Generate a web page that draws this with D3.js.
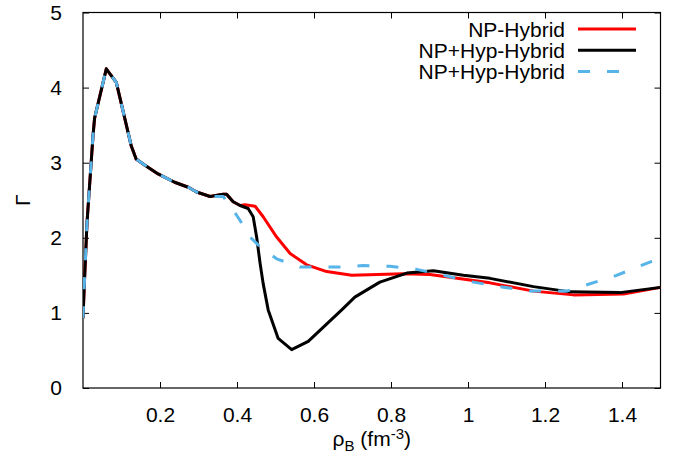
<!DOCTYPE html>
<html>
<head>
<meta charset="utf-8">
<script src="https://cdn.jsdelivr.net/npm/d3@7/dist/d3.min.js"></script>
<style>
  body { margin: 0; background: #fff; }
  svg { font-family: "Liberation Sans", Arial, Helvetica, sans-serif; }
</style>
</head>
<body>
<div id="chart"></div>
<script>
// axis ticks
const xTicks = [0.2, 0.4, 0.6, 0.8, 1, 1.2, 1.4]
const yTicks = [0, 1, 2, 3, 4, 5]

// legend labels (the figure really does repeat the second one)
const seriesNames = ["NP-Hybrid", "NP+Hyp-Hybrid", "NP+Hyp-Hybrid"]

// [rho_B, Gamma] points; all three curves share the low density part
const lowDensity = [
  [0, 0.93], [0.003, 1.33], [0.0104, 2.2], [0.026, 3.36], [0.030, 3.59],
  [0.0605, 4.25], [0.0865, 4.07], [0.125, 3.23], [0.138, 3.05], [0.160, 2.97],
  [0.195, 2.85], [0.238, 2.74], [0.275, 2.67], [0.295, 2.61], [0.330, 2.55]
]

const npHybrid = lowDensity.concat([
  [0.364, 2.58], [0.373, 2.58], [0.390, 2.48], [0.408, 2.43], [0.421, 2.44],
  [0.447, 2.42], [0.468, 2.28], [0.503, 2.01], [0.538, 1.79], [0.581, 1.64],
  [0.633, 1.55], [0.698, 1.50], [0.832, 1.52], [0.901, 1.51], [1.057, 1.40],
  [1.170, 1.29], [1.274, 1.24], [1.404, 1.25], [1.5, 1.34]
])

const npHypHybrid = lowDensity.concat([
  [0.364, 2.58], [0.373, 2.58], [0.390, 2.48], [0.408, 2.43], [0.429, 2.39],
  [0.442, 2.28], [0.451, 2.01], [0.460, 1.66], [0.468, 1.39], [0.481, 1.04],
  [0.507, 0.66], [0.542, 0.51], [0.585, 0.62], [0.672, 1.04], [0.706, 1.21],
  [0.771, 1.41], [0.841, 1.53], [0.910, 1.56], [0.988, 1.50], [1.057, 1.46],
  [1.170, 1.35], [1.265, 1.28], [1.395, 1.27], [1.5, 1.34]
])

const npHypHybridDashed = lowDensity.concat([
  [0.364, 2.55], [0.390, 2.37], [0.408, 2.23], [0.434, 2.01], [0.460, 1.88],
  [0.503, 1.72], [0.564, 1.61], [0.667, 1.61], [0.727, 1.63], [0.797, 1.62],
  [0.867, 1.58], [0.936, 1.50], [1.014, 1.41], [1.083, 1.35], [1.161, 1.29],
  [1.256, 1.29], [1.300, 1.36], [1.386, 1.50], [1.474, 1.68], [1.5, 1.73]
])

const seriesData = [npHybrid, npHypHybrid, npHypHybridDashed]
const seriesColors = ["#ff0000", "#000000", "#56b4e9"]
const seriesDash = [null, null, "12,17"]

const dimensions = {
  width: 680,
  height: 459,
  margin: { top: 12.5, right: 19.5, bottom: 71, left: 83 }
}
dimensions.boundedWidth = dimensions.width - dimensions.margin.left - dimensions.margin.right
dimensions.boundedHeight = dimensions.height - dimensions.margin.top - dimensions.margin.bottom

const svg = d3.select("#chart").append("svg")
    .attr("width", dimensions.width)
    .attr("height", dimensions.height)

const bounds = svg.append("g")
    .attr("transform", `translate(${dimensions.margin.left},${dimensions.margin.top})`)

const xScale = d3.scaleLinear().domain([0, 1.5]).range([0, dimensions.boundedWidth])
const yScale = d3.scaleLinear().domain([0, 5]).range([dimensions.boundedHeight, 0])

// inward ticks on all four sides, gnuplot style
const tickLen = 6
const fmt = d => String(d)

bounds.append("g")
    .attr("transform", `translate(0,${dimensions.boundedHeight})`)
    .call(d3.axisBottom(xScale).tickValues(xTicks).tickSize(-tickLen).tickPadding(tickLen + 13).tickFormat(fmt))
bounds.append("g")
    .call(d3.axisTop(xScale).tickValues(xTicks).tickSize(-tickLen).tickFormat(""))
bounds.append("g")
    .call(d3.axisLeft(yScale).tickValues(yTicks).tickSize(-tickLen).tickPadding(tickLen + 15).tickFormat(fmt))
bounds.append("g")
    .attr("transform", `translate(${dimensions.boundedWidth},0)`)
    .call(d3.axisRight(yScale).tickValues(yTicks).tickSize(-tickLen).tickFormat(""))

svg.selectAll(".domain").remove()
svg.selectAll(".tick line").attr("stroke", "#000").attr("stroke-width", 1)
svg.selectAll(".tick text")
    .attr("fill", "#000")
    .style("font-size", "21px")

// frame
bounds.append("rect")
    .attr("width", dimensions.boundedWidth)
    .attr("height", dimensions.boundedHeight)
    .attr("fill", "none")
    .attr("stroke", "#000")
    .attr("stroke-width", 1.2)

// curves
const lineGenerator = d3.line()
    .x(d => xScale(d[0]))
    .y(d => yScale(d[1]))

svg.append("clipPath").attr("id", "plot-clip")
  .append("rect")
    .attr("width", dimensions.boundedWidth)
    .attr("height", dimensions.boundedHeight)

bounds.append("g")
    .attr("clip-path", "url(#plot-clip)")
  .selectAll("path")
  .data(seriesData)
  .join("path")
    .attr("d", d => lineGenerator(d))
    .attr("fill", "none")
    .attr("stroke", (d, i) => seriesColors[i])
    .attr("stroke-width", 3)
    .attr("stroke-linejoin", "round")
    .attr("stroke-dasharray", (d, i) => seriesDash[i])

// legend
const legend = svg.append("g")
    .attr("transform", "translate(565,29)")
seriesNames.forEach((name, i) => {
  const row = legend.append("g").attr("transform", `translate(0,${i * 21.3})`)
  row.append("text")
      .attr("text-anchor", "end")
      .attr("dy", "0.36em")
      .style("font-size", "21px")
      .text(name)
  row.append("line")
      .attr("x1", 13)
      .attr("x2", 71)
      .attr("stroke", seriesColors[i])
      .attr("stroke-width", 3)
      .attr("stroke-dasharray", seriesDash[i])
})

// axis labels
const xLabel = svg.append("text")
    .attr("x", dimensions.margin.left + dimensions.boundedWidth / 2)
    .attr("y", 446)
    .attr("text-anchor", "middle")
    .style("font-size", "21px")
xLabel.append("tspan").text("ρ")
xLabel.append("tspan").attr("dy", 5).style("font-size", "15px").text("B")
xLabel.append("tspan").attr("dy", -5).text(" (fm")
xLabel.append("tspan").attr("dy", -7).style("font-size", "15px").text("-3")
xLabel.append("tspan").attr("dy", 7).text(")")

svg.append("text")
    .attr("transform", `translate(30,${dimensions.margin.top + dimensions.boundedHeight / 2}) rotate(-90)`)
    .attr("text-anchor", "middle")
    .style("font-size", "21px")
    .text("Γ")
</script>
</body>
</html>
